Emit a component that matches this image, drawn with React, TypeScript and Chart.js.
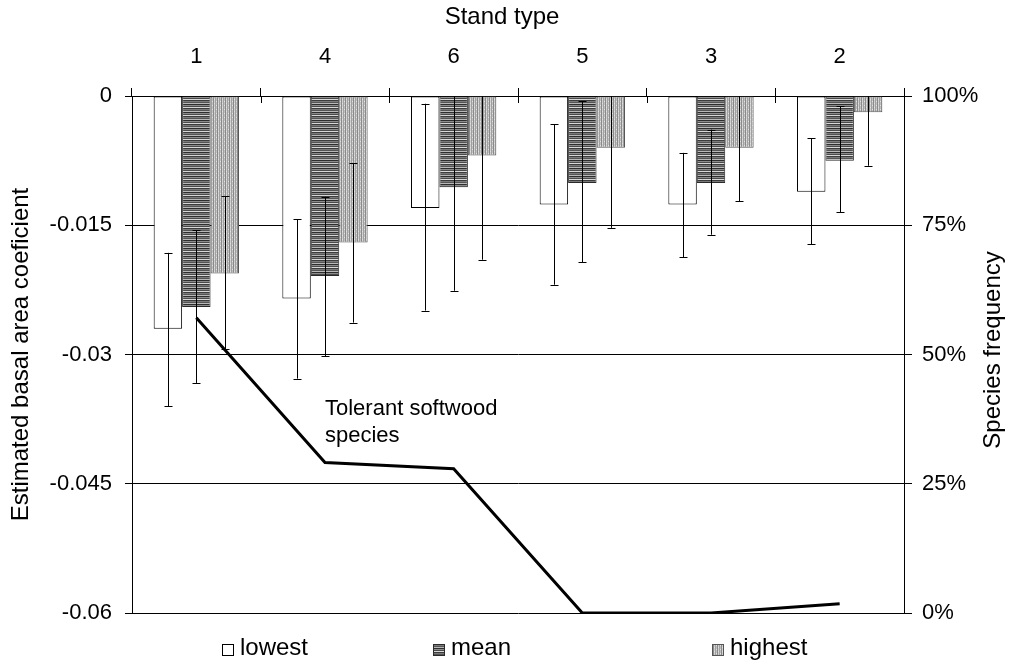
import React, { useEffect, useRef } from "react";
import { Chart, registerables } from "chart.js";

Chart.register(...registerables);

// ---- data ----
const standTypes = ["1", "4", "6", "5", "3", "2"];

const lowestValues = [-0.027, -0.0235, -0.013, -0.0126, -0.0126, -0.0111];
const lowestErrTop = [-0.0182, -0.0143, -0.0009, -0.0033, -0.0066, -0.0049];
const lowestErrBottom = [-0.036, -0.0328, -0.0249, -0.0219, -0.0187, -0.0172];

const meanValues = [-0.0245, -0.0209, -0.0106, -0.0101, -0.0101, -0.0075];
const meanErrTop = [-0.0156, -0.0117, 0.0014, -0.0006, -0.0039, -0.0012];
const meanErrBottom = [-0.0333, -0.0302, -0.0226, -0.0193, -0.0161, -0.0135];

const highestValues = [-0.0206, -0.017, -0.0069, -0.006, -0.006, -0.0019];
const highestErrTop = [-0.0116, -0.0078, 0.005, 0.0033, 0.0002, 0.0043];
const highestErrBottom = [-0.0294, -0.0263, -0.019, -0.0153, -0.0122, -0.0081];

const speciesFrequency = [57.1, 29.1, 27.9, 0, 0, 1.8];

const leftTicks = [0, -0.015, -0.03, -0.045, -0.06];
const rightTicks = [0, 25, 50, 75, 100];

const seriesLabels = ["lowest", "mean", "highest"];
const xTitle = "Stand type";
const yTitle = "Estimated basal area coeficient";
const y2Title = "Species frequency";
const annotationLines = ["Tolerant softwood", "species"];

const FONT = "'Liberation Sans', Arial, Helvetica, sans-serif";
const W = 1014;
const H = 661;

export default function App() {
  const ref = useRef<HTMLCanvasElement>(null);

  useEffect(() => {
    const canvas = ref.current!;
    const mainCtx = canvas.getContext("2d")!;

    const makePattern = (w: number, h: number, draw: (g: CanvasRenderingContext2D) => void) => {
      const c = document.createElement("canvas");
      c.width = w;
      c.height = h;
      const g = c.getContext("2d")!;
      draw(g);
      return mainCtx.createPattern(c, "repeat")!;
    };

    const meanRows = ["#2e2e2e", "#8c8c8c", "#4a4a4a", "#d8d8d8", "#3c3c3c", "#7a7a7a", "#555555", "#b8b8b8"];
    const meanPattern = makePattern(4, meanRows.length, (g) => {
      meanRows.forEach((c, i) => {
        g.fillStyle = c;
        g.fillRect(0, i, 4, 1);
      });
    });
    const highCols = ["#c0c0c0", "#8a8a8a", "#d0d0d0", "#a0a0a0"];
    const highPattern = makePattern(highCols.length, 4, (g) => {
      highCols.forEach((c, i) => {
        g.fillStyle = c;
        g.fillRect(i, 0, 1, 4);
      });
      g.fillStyle = "#e2e2e2";
      g.fillRect(0, 1, 1, 1);
      g.fillRect(2, 3, 1, 1);
    });

    const fills = ["#ffffff", meanPattern, highPattern];
    const borders = ["#000000", "#2a2a2a", "#555555"];

    const overlay = {
      id: "overlay",
      afterDatasetsDraw(chart: any) {
        const { ctx, chartArea: ca, scales } = chart;
        const ys = scales.y;
        ctx.save();
        ctx.strokeStyle = "#000";
        ctx.lineWidth = 1;
        // error bars
        chart.data.datasets.forEach((ds: any, di: number) => {
          if (!ds.errTop) return;
          const meta = chart.getDatasetMeta(di);
          meta.data.forEach((el: any, i: number) => {
            const x = Math.round(el.x) + 0.5;
            const t = ys.getPixelForValue(ds.errTop[i]);
            const b = ys.getPixelForValue(ds.errBottom[i]);
            const tc = Math.max(t, ca.top);
            const bc = Math.min(b, ca.bottom);
            ctx.beginPath();
            ctx.moveTo(x, tc);
            ctx.lineTo(x, bc);
            if (t >= ca.top) {
              const yy = Math.round(t) + 0.5;
              ctx.moveTo(x - 4, yy);
              ctx.lineTo(x + 4, yy);
            }
            if (b <= ca.bottom) {
              const yy = Math.round(b) + 0.5;
              ctx.moveTo(x - 4, yy);
              ctx.lineTo(x + 4, yy);
            }
            ctx.stroke();
          });
        });
        // inner part of category tick marks
        const n = chart.data.labels.length;
        const w = (ca.right - ca.left) / n;
        ctx.beginPath();
        for (let i = 1; i < n; i++) {
          const x = Math.round(ca.left + i * w) + 0.5;
          ctx.moveTo(x, ca.top);
          ctx.lineTo(x, ca.top + 7);
        }
        ctx.stroke();

        ctx.fillStyle = "#000";
        ctx.font = `22px ${FONT}`;
        // annotation
        ctx.textAlign = "left";
        ctx.textBaseline = "alphabetic";
        annotationLines.forEach((s, i) => ctx.fillText(s, 325, 415 + i * 27));

        // top axis title
        ctx.font = `24px ${FONT}`;
        ctx.textAlign = "center";
        ctx.textBaseline = "middle";
        ctx.fillText(xTitle, 502, 17);

        // right axis title
        ctx.save();
        ctx.translate(993, 350);
        ctx.rotate(-Math.PI / 2);
        ctx.fillText(y2Title, 0, 0);
        ctx.restore();

        // legend
        const legendX = [222, 433, 712];
        ctx.textAlign = "left";
        ctx.textBaseline = "alphabetic";
        seriesLabels.forEach((lab, i) => {
          const bx = legendX[i];
          ctx.fillStyle = fills[i] as any;
          ctx.fillRect(bx, 644, 12, 12);
          ctx.strokeStyle = borders[i];
          ctx.strokeRect(bx + 0.5, 644.5, 11, 11);
          ctx.fillStyle = "#000";
          ctx.fillText(lab, bx + 18, 655);
        });
        ctx.restore();
      },
    };

    const barCommon = {
      type: "bar" as const,
      yAxisID: "y",
      xAxisID: "x",
      borderWidth: 1,
      borderSkipped: false as const,
      categoryPercentage: 0.663,
      barPercentage: 1,
      order: 1,
    };

    const chart = new Chart(canvas, {
      type: "bar",
      data: {
        labels: standTypes,
        datasets: [
          {
            ...barCommon,
            label: seriesLabels[0],
            data: lowestValues,
            backgroundColor: fills[0] as any,
            borderColor: borders[0],
            errTop: lowestErrTop,
            errBottom: lowestErrBottom,
          } as any,
          {
            ...barCommon,
            label: seriesLabels[1],
            data: meanValues,
            backgroundColor: fills[1] as any,
            borderColor: borders[1],
            errTop: meanErrTop,
            errBottom: meanErrBottom,
          } as any,
          {
            ...barCommon,
            label: seriesLabels[2],
            data: highestValues,
            backgroundColor: fills[2] as any,
            borderColor: borders[2],
            errTop: highestErrTop,
            errBottom: highestErrBottom,
          } as any,
          {
            type: "line",
            label: annotationLines.join(" "),
            data: speciesFrequency,
            yAxisID: "y2",
            xAxisID: "x",
            borderColor: "#000",
            borderWidth: 3,
            pointRadius: 0,
            tension: 0,
            fill: false,
            order: 0,
          } as any,
        ],
      },
      options: {
        responsive: false,
        animation: false,
        layout: { padding: { left: 0, right: 0, top: 0, bottom: 48 } },
        plugins: {
          legend: { display: false },
          tooltip: { enabled: false },
          title: { display: false },
        },
        scales: {
          x: {
            type: "category",
            position: "top",
            offset: true,
            grid: {
              offset: true,
              drawOnChartArea: false,
              drawTicks: true,
              tickLength: 8,
              color: "#000",
              lineWidth: 1,
            },
            border: { display: true, color: "#000", width: 1 },
            ticks: {
              color: "#000",
              font: { family: FONT, size: 22 },
              padding: 18,
              maxRotation: 0,
            },
            afterFit: (s: any) => {
              s.height = 96;
            },
          },
          y: {
            type: "linear",
            position: "left",
            min: -0.06,
            max: 0,
            afterBuildTicks: (s: any) => {
              s.ticks = leftTicks.map((v) => ({ value: v }));
            },
            grid: {
              color: "#000",
              lineWidth: 1,
              drawTicks: true,
              tickLength: 7,
            },
            border: { display: true, color: "#000", width: 1 },
            ticks: {
              color: "#000",
              font: { family: FONT, size: 22 },
              padding: 13,
              callback: (v: any) => String(v),
            },
            title: {
              display: true,
              text: yTitle,
              color: "#000",
              font: { family: FONT, size: 24 },
              padding: { top: 7, bottom: 4 },
            },
            afterFit: (s: any) => {
              s.width = 132;
            },
          },
          y2: {
            type: "linear",
            position: "right",
            min: 0,
            max: 100,
            afterBuildTicks: (s: any) => {
              s.ticks = rightTicks.map((v) => ({ value: v }));
            },
            grid: {
              drawOnChartArea: false,
              drawTicks: true,
              tickLength: 8,
              color: "#000",
              lineWidth: 1,
            },
            border: { display: true, color: "#000", width: 1 },
            ticks: {
              color: "#000",
              font: { family: FONT, size: 22 },
              padding: 10,
              callback: (v: any) => `${v}%`,
            },
            afterFit: (s: any) => {
              s.width = 110;
            },
          },
        },
      } as any,
      plugins: [overlay],
    });

    return () => chart.destroy();
  }, []);

  return (
    <div style={{ position: "absolute", left: 0, top: 0, width: W, height: H, background: "#fff" }}>
      <canvas ref={ref} width={W} height={H} style={{ display: "block", width: W, height: H }} />
    </div>
  );
}
